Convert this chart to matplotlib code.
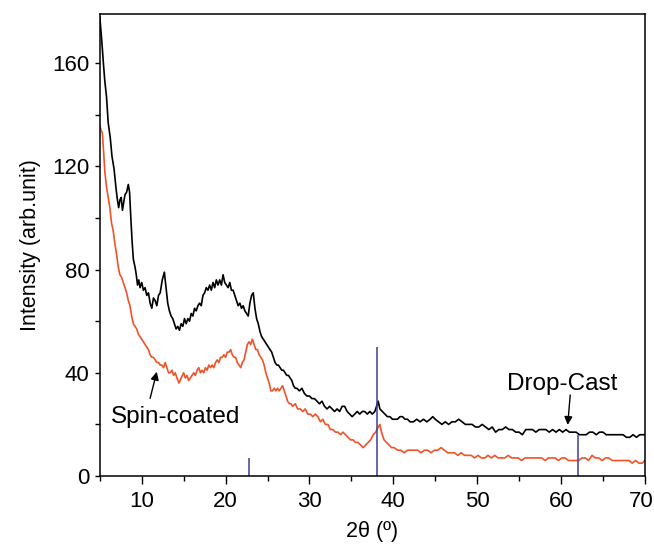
import matplotlib
matplotlib.use("Agg")
import matplotlib.pyplot as plt
import matplotlib.transforms as mtransforms
from matplotlib.ticker import MultipleLocator

plt.rcParams["font.family"] = ["Liberation Sans", "DejaVu Sans"]

# Drop-cast film (black)
drop_x = [5.0, 5.25, 5.45, 5.6, 5.8, 6.0, 6.25, 6.45, 6.7, 6.95, 7.1, 7.25, 7.4, 7.55, 7.7, 7.85,
          8.0, 8.2, 8.4, 8.55, 8.7, 8.85, 9.0, 9.2, 9.35, 9.5, 9.65, 9.8, 10.0, 10.2, 10.4, 10.6,
          10.8, 11.0, 11.2, 11.4, 11.6, 11.8, 12.0, 12.2, 12.45, 12.7, 12.9, 13.1, 13.3, 13.5,
          13.7, 13.9, 14.1, 14.3, 14.5, 14.7, 14.9, 15.1, 15.3, 15.5, 15.7, 15.9, 16.1, 16.3,
          16.5, 16.7, 16.9, 17.1, 17.3, 17.5, 17.7, 17.9, 18.1, 18.3, 18.5, 18.7, 18.9, 19.1,
          19.3, 19.5, 19.7, 19.9, 20.1, 20.3, 20.5, 20.7, 20.9, 21.1, 21.3, 21.5, 21.7, 21.9,
          22.1, 22.3, 22.5, 22.7, 22.9, 23.1, 23.3, 23.5, 23.7, 23.9, 24.1, 24.3, 24.5, 24.7,
          24.9, 25.1, 25.3, 25.5, 25.7, 25.9, 26.1, 26.3, 26.5, 26.7, 26.9, 27.1, 27.3, 27.5,
          27.7, 27.9, 28.1, 28.3, 28.5, 28.8, 29.1, 29.4, 29.7, 30.0, 30.3, 30.6, 30.9, 31.2,
          31.5, 31.8, 32.1, 32.4, 32.7, 33.0, 33.3, 33.6, 33.9, 34.2, 34.5, 34.8, 35.1, 35.4,
          35.7, 36.0, 36.3, 36.6, 36.9, 37.2, 37.5, 37.8, 38.0, 38.2, 38.4, 38.7, 39.0, 39.3,
          39.6, 39.9, 40.2, 40.5, 40.8, 41.1, 41.4, 41.7, 42.0, 42.4, 42.8, 43.2, 43.6, 44.0,
          44.4, 44.7, 45.0, 45.4, 45.8, 46.2, 46.6, 47.0, 47.4, 47.8, 48.2, 48.6, 49.0, 49.4,
          49.8, 50.2, 50.6, 51.0, 51.4, 51.8, 52.2, 52.6, 53.0, 53.4, 53.8, 54.2, 54.6, 55.0,
          55.4, 55.8, 56.2, 56.6, 57.0, 57.4, 57.8, 58.2, 58.6, 59.0, 59.4, 59.8, 60.2, 60.6,
          61.0, 61.4, 61.8, 62.2, 62.6, 63.0, 63.4, 63.8, 64.2, 64.6, 65.0, 65.4, 65.8, 66.2,
          66.6, 67.0, 67.4, 67.8, 68.2, 68.6, 69.0, 69.4, 70.0]
drop_y = [178, 168, 159, 153, 147, 137, 131, 124, 119, 111, 107, 104, 107, 108, 103, 106,
          109, 110, 113, 110, 100, 91, 84, 81, 78, 74, 76, 73, 75, 72, 73, 70,
          71, 67, 65, 69, 68, 66, 70, 71, 76, 79, 73, 67, 64, 62,
          61, 59, 57, 58, 56.5, 59, 58, 61, 59, 61, 60, 63, 62, 65,
          64, 66, 67, 66, 70, 71, 73, 72, 74, 72, 75, 73, 76, 74,
          76, 74, 78, 75, 74, 73, 75, 72, 72, 70, 68, 66, 67, 65,
          66, 64, 63, 62, 67, 70, 71, 65, 61, 59, 56, 54, 53, 52,
          51, 50, 49, 48, 46, 44, 43, 43, 42, 41, 41, 40, 39, 39,
          38, 37, 35, 34, 34, 33, 34, 32, 31, 31, 30, 30, 29, 28,
          29, 27, 26, 27, 26, 25, 26, 25, 27, 27, 25, 24, 23, 24,
          25, 24, 25, 25, 24, 25, 24, 25, 27, 29, 26, 25, 24, 23,
          23, 22, 22, 22, 23, 23, 22, 22, 21, 21, 22, 21, 22, 21,
          22, 23, 22, 21, 20, 21, 20, 21, 21, 22, 21, 20, 20, 20,
          19, 19, 20, 19, 18, 19, 17, 18, 18, 19, 18, 18, 17, 17,
          16, 18, 18, 18, 17, 18, 18, 18, 17, 18, 17, 18, 17, 18,
          17, 17, 17, 16, 16, 16, 17, 17, 16, 17, 17, 16, 16, 16,
          16, 16, 16, 15, 15, 16, 15, 16, 16]

# Spin-coated film (orange)
spin_x = [5.0, 5.15, 5.3, 5.45, 5.6, 5.8, 6.0, 6.2, 6.4, 6.6, 6.8, 7.0, 7.2, 7.4, 7.6, 7.8,
          8.0, 8.2, 8.4, 8.6, 8.8, 9.0, 9.2, 9.4, 9.6, 9.8, 10.0, 10.2, 10.4, 10.6, 10.8, 11.0,
          11.2, 11.4, 11.6, 11.8, 12.0, 12.2, 12.4, 12.6, 12.8, 13.0, 13.2, 13.4, 13.6, 13.8,
          14.0, 14.2, 14.45, 14.7, 15.0, 15.2, 15.4, 15.6, 15.8, 16.0, 16.2, 16.4, 16.6, 16.8,
          17.0, 17.2, 17.4, 17.6, 17.8, 18.0, 18.2, 18.4, 18.6, 18.8, 19.0, 19.2, 19.4, 19.6,
          19.8, 20.0, 20.2, 20.4, 20.6, 20.8, 21.0, 21.2, 21.4, 21.6, 21.8, 22.0, 22.2, 22.4,
          22.6, 22.8, 23.0, 23.2, 23.4, 23.6, 23.8, 24.0, 24.2, 24.4, 24.6, 24.8, 25.0, 25.2,
          25.4, 25.6, 25.8, 26.0, 26.2, 26.4, 26.6, 26.8, 27.0, 27.2, 27.4, 27.6, 27.8, 28.0,
          28.3, 28.6, 28.9, 29.2, 29.5, 29.8, 30.1, 30.4, 30.7, 31.0, 31.3, 31.6, 31.9, 32.2,
          32.5, 32.8, 33.1, 33.4, 33.7, 34.0, 34.3, 34.6, 34.9, 35.2, 35.5, 35.8, 36.1, 36.4,
          36.7, 37.0, 37.3, 37.6, 37.9, 38.2, 38.4, 38.6, 38.9, 39.2, 39.5, 39.8, 40.1, 40.5,
          40.9, 41.3, 41.7, 42.1, 42.5, 42.9, 43.3, 43.7, 44.1, 44.5, 44.9, 45.3, 45.7, 46.1,
          46.5, 46.9, 47.3, 47.7, 48.1, 48.5, 48.9, 49.3, 49.7, 50.1, 50.5, 50.9, 51.3, 51.7,
          52.1, 52.5, 52.9, 53.3, 53.7, 54.1, 54.5, 54.9, 55.3, 55.7, 56.1, 56.5, 56.9, 57.3,
          57.7, 58.1, 58.5, 58.9, 59.3, 59.7, 60.1, 60.5, 60.9, 61.3, 61.7, 62.1, 62.5, 62.9,
          63.3, 63.7, 64.1, 64.5, 64.9, 65.3, 65.7, 66.1, 66.5, 66.9, 67.3, 67.7, 68.1, 68.5,
          68.9, 69.3, 69.7, 70.0]
spin_y = [136, 134, 133, 126, 118, 112, 108, 104, 98, 95, 90, 86, 81, 78, 77, 75,
          73, 71, 68, 66, 62, 59, 58, 57, 55, 54, 53, 52, 51, 50, 49, 47,
          46, 46, 45, 44, 44, 43, 43, 42, 44, 42, 40, 40, 41, 39,
          40, 38, 36, 38, 40, 38, 39, 37, 38, 39, 40, 39, 41, 42,
          40, 41, 40, 42, 41, 43, 42, 43, 42, 44, 45, 44, 46, 46,
          47, 46, 48, 48, 49, 47, 46, 46, 44, 43, 42, 44, 45, 48,
          51, 52, 51, 53, 51, 49, 49, 47, 46, 45, 43, 40, 38, 36,
          33, 33, 34, 33, 34, 33, 34, 35, 33, 31, 29, 28, 28, 27,
          28, 26, 26, 25, 26, 24, 24, 23, 24, 23, 21, 22, 20, 20,
          18, 18, 17, 17, 16, 17, 16, 15, 14, 14, 13, 13, 12, 11,
          12, 13, 14, 16, 17, 19, 20, 17, 14, 13, 12, 11, 11, 10,
          10, 9, 10, 10, 10, 10, 9, 10, 10, 9, 10, 10, 11, 10,
          9, 9, 9, 8, 9, 8, 8, 8, 7, 8, 7, 7, 8, 7,
          8, 7, 7, 7, 8, 7, 7, 7, 6, 7, 7, 7, 7, 7,
          7, 6, 7, 7, 7, 6, 7, 7, 6, 6, 6, 6, 7, 7,
          6, 8, 7, 7, 6, 7, 7, 6, 6, 6, 6, 6, 6, 5,
          6, 5, 5, 6]

# reference peak positions and heights (blue sticks)
ref_pos = [22.8, 38.0, 62.0]
ref_height = [7, 50, 16]

x_ticks = [10, 20, 30, 40, 50, 60, 70]

fig = plt.figure(figsize=(6.54, 5.45), dpi=100)
ax = fig.add_axes([0.1526, 0.1266, 0.8334, 0.8474])

ax.plot(drop_x, drop_y, color="black", lw=1.2)
ax.plot(spin_x, spin_y, color="#f0522a", lw=1.2)
ax.vlines(ref_pos, 0, ref_height, color="#3b3f9a", lw=1.1)

ax.set_xlim(5, 70)
ax.set_ylim(0, 179)
ax.set_xticks(x_ticks)
ax.xaxis.set_minor_locator(MultipleLocator(5))
ax.yaxis.set_major_locator(MultipleLocator(40))
ax.yaxis.set_minor_locator(MultipleLocator(20))
ax.tick_params(axis="x", which="major", direction="out", length=6, width=1, labelsize=16, pad=5)
ax.tick_params(axis="x", which="minor", direction="out", length=3.5, width=1)
ax.tick_params(axis="y", which="both", direction="out", length=3.5, width=1, labelsize=16, pad=4)
for s in ax.spines.values():
    s.set_linewidth(1.1)

# nudge the last x label so it stays inside the figure
last = ax.get_xticklabels()[-1]
last.set_transform(last.get_transform() +
                   mtransforms.ScaledTranslation(-4 / 100, 0, fig.dpi_scale_trans))

ax.set_xlabel("2θ (º)", fontsize=15.5, labelpad=6)
ax.set_ylabel("Intensity (arb.unit)", fontsize=15.5, labelpad=8)

arrow = dict(arrowstyle="-|>", color="black", lw=1, shrinkA=0, shrinkB=0,
             mutation_scale=12)
ax.text(14.0, 22.7, "Spin-coated", fontsize=17.5, ha="center", va="center")
ax.annotate("", xy=(11.8, 40.4), xytext=(11.0, 30.1), arrowprops=arrow)
ax.text(60.2, 35.7, "Drop-Cast", fontsize=17.5, ha="center", va="center")
ax.annotate("", xy=(60.8, 19.8), xytext=(61.1, 31.4), arrowprops=arrow)

fig.savefig("out.png", dpi=100)
